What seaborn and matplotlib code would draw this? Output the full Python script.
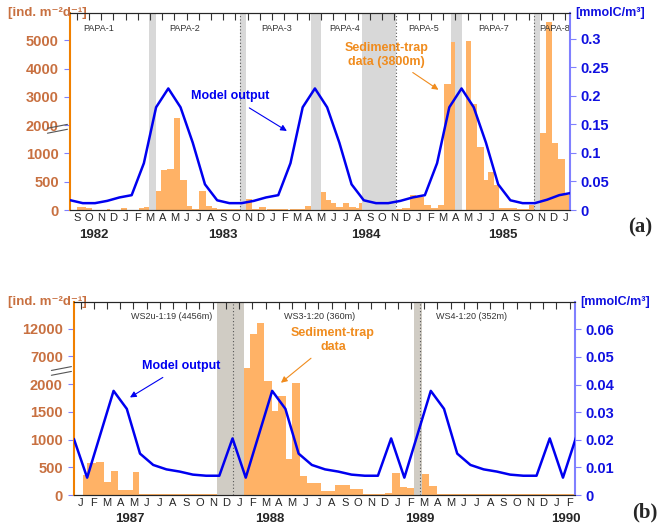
import numpy as np
import pandas as pd
import seaborn as sns
import matplotlib.pyplot as plt
from matplotlib.transforms import blended_transform_factory

sns.set_style("white")
plt.rcParams["font.family"] = ["Liberation Sans", "DejaVu Sans"]

ORANGE_BAR = "#FFB266"
ORANGE_TXT = "#C87040"
ORANGE_ANN = "#F08C1E"
BLUE = "#0000F0"
BLUE_AX = "#8080FF"

# ---------------- panel (a): month index 0 = Sep 1982 ----------------
a_months = ["S", "O", "N", "D", "J", "F", "M", "A", "M", "J", "J", "A"]
a_month_labels = (a_months * 4)[:41]
a_years = ["1982", "1983", "1984", "1985"]
a_year_pos = [1.4, 12.0, 23.7, 34.9]

a_model_x = [i - 0.5 for i in range(42)]
a_model = [0.017, 0.012, 0.012, 0.016, 0.022, 0.026, 0.082, 0.18, 0.213, 0.18, 0.118, 0.045,
           0.017, 0.012, 0.012, 0.016, 0.022, 0.026, 0.082, 0.18, 0.213, 0.18, 0.118, 0.045,
           0.017, 0.012, 0.012, 0.016, 0.022, 0.026, 0.082, 0.18, 0.213, 0.18, 0.118, 0.045,
           0.017, 0.012, 0.012, 0.018, 0.026, 0.030]

a_bar_start = [0.05, 0.77, 2.47, 3.62, 5.07, 5.48, 6.49, 6.9, 7.4, 7.95, 8.49, 8.99, 9.45, 10.0,
               10.55, 11.1, 11.5, 12.33, 13.84, 14.38, 14.93, 15.6, 17.5, 18.36, 18.7, 20.0,
               20.4, 20.82, 21.23, 21.78, 22.32, 22.9, 23.1, 26.17, 26.6, 27.3, 27.8, 28.4,
               29.0, 29.6, 30.1, 30.6, 31.9, 32.3, 32.8, 33.3, 33.7, 34.2, 34.6, 35.5, 36.07,
               37.05, 37.96, 38.38, 38.87, 39.4, 39.95]
a_bar_end = [0.77, 1.23, 2.74, 4.11, 5.48, 5.95, 6.9, 7.4, 7.95, 8.49, 8.99, 9.45, 10.0, 10.55,
             11.1, 11.5, 12.33, 13.37, 14.38, 14.93, 15.48, 17.3, 18.36, 18.7, 19.2, 20.4,
             20.82, 21.23, 21.78, 22.32, 22.9, 23.1, 23.35, 26.6, 27.3, 27.8, 28.4, 29.0,
             29.6, 30.1, 30.6, 31.0, 32.3, 32.8, 33.3, 33.7, 34.2, 34.6, 35.5, 36.07, 37.05,
             37.4, 38.38, 38.87, 39.4, 39.95, 40.57]
a_bar_val = [60, 30, 10, 40, 40, 50, 340, 715, 725, 2250, 535, 70, 20, 340, 70, 30, 20, 10,
             200, 20, 50, 10, 10, 20, 70, 310, 180, 130, 50, 120, 60, 40, 120, 10, 40, 260,
             235, 90, 30, 90, 3460, 4940, 4960, 2750, 1240, 523, 670, 450, 40, 30, 10, 80,
             1730, 5650, 1380, 910, 260]

a_grey = [(5.95, 6.49), (13.37, 13.84), (19.18, 20.0), (23.35, 26.17), (30.6, 31.5), (37.4, 37.96)]
a_dotted = [13.37, 26.17, 37.4]
a_cruise = ["PAPA-1", "PAPA-2", "PAPA-3", "PAPA-4", "PAPA-5", "PAPA-7", "PAPA-8"]
a_cruise_pos = [1.8, 8.8, 16.4, 21.9, 28.4, 34.1, 39.1]
a_left_ticks = [0, 500, 1000, 2000, 3000, 4000, 5000]
a_right_ticks = [0, 0.05, 0.1, 0.15, 0.2, 0.25, 0.3]

# ---------------- panel (b): month index 0 = Jan 1987 ----------------
b_months = ["J", "F", "M", "A", "M", "J", "J", "A", "S", "O", "N", "D"]
b_month_labels = (b_months * 4)[:38]
b_years = ["1987", "1988", "1989", "1990"]
b_year_pos = [3.7, 14.3, 25.7, 36.7]

b_model_x = [i - 0.5 for i in range(39)]
b_model = [0.0203, 0.0063, 0.022, 0.0377, 0.0312, 0.015, 0.0109, 0.0093, 0.0085, 0.0074, 0.007, 0.007,
           0.0205, 0.0063, 0.022, 0.0377, 0.0312, 0.015, 0.0109, 0.0093, 0.0085, 0.0074, 0.007, 0.007,
           0.0205, 0.0063, 0.022, 0.0377, 0.0312, 0.015, 0.0109, 0.0093, 0.0085, 0.0074, 0.007, 0.007,
           0.0205, 0.0063, 0.021]

b_bar_start = [0.15, 0.5, 1.2, 1.77, 2.27, 2.85, 3.48, 3.94, 4.44, 12.37, 12.83, 13.38, 13.89,
               14.47, 14.97, 15.53, 16.03, 16.6, 17.1, 18.2, 18.9, 19.27, 20.4, 21.4, 23.06,
               23.56, 24.2, 24.7, 25.8, 26.4, 27.0]
b_bar_end = [0.5, 1.2, 1.77, 2.27, 2.85, 3.48, 3.94, 4.44, 10.35, 12.83, 13.38, 13.89, 14.47,
             14.97, 15.53, 16.03, 16.6, 17.1, 18.2, 18.9, 19.27, 20.4, 21.4, 23.06, 23.56,
             24.2, 24.7, 25.2, 26.4, 27.0, 37.4]
b_bar_val = [360, 570, 600, 240, 430, 90, 90, 410, 20, 5000, 11100, 13000, 2500, 1520, 1780,
             645, 2200, 345, 210, 70, 70, 180, 110, 15, 40, 390, 140, 130, 380, 160, 15]

b_grey = [(10.35, 12.37), (25.2, 25.8)]
b_dotted = [11.57, 25.65]
b_cruise = ["WS2u-1:19 (4456m)", "WS3-1:20 (360m)", "WS4-1:20 (352m)"]
b_cruise_pos = [6.9, 18.1, 29.6]
b_left_ticks = [0, 500, 1000, 1500, 2000, 7000, 12000]
b_right_ticks = [0, 0.01, 0.02, 0.03, 0.04, 0.05, 0.06]


def make_scale(split, k):
    # piecewise linear "broken" axis: linear below split, compressed by k above
    def fwd(v):
        v = np.asarray(v, dtype=float)
        return np.where(v <= split, v, split + (v - split) / k)

    def inv(u):
        u = np.asarray(u, dtype=float)
        return np.where(u <= split, u, split + (u - split) * k)
    return fwd, inv


def draw_panel(rect, months, years, year_pos, mx, model, bs, be, bv, grey, dotted,
               cruise, cruise_pos, lticks, rticks, xlim, lylim, rylim, scale, grey_col,
               break_y, tag):
    ax = fig.add_axes(rect)
    ax.set_yscale("function", functions=make_scale(*scale))
    for g0, g1 in grey:
        ax.axvspan(g0, g1, color=grey_col, lw=0, zorder=0)
    for d in dotted:
        ax.axvline(d, color="#555555", ls=(0, (1, 2)), lw=0.8, zorder=1)
    bs = np.array(bs)
    be = np.array(be)
    ax.bar(bs, bv, width=be - bs, align="edge", color=ORANGE_BAR, lw=0, zorder=2)
    ax.set_xlim(*xlim)
    ax.set_ylim(*lylim)
    ax.set_yticks(lticks)
    ax.set_yticklabels([str(t) for t in lticks], color=ORANGE_TXT, fontweight="bold", fontsize=10.5)
    ax.yaxis.set_minor_locator(plt.NullLocator())
    ax.tick_params(axis="y", length=4, color=BLUE_AX, direction="out", pad=4)
    ax.set_xticks(range(len(months)))
    ax.set_xticklabels(months, fontsize=8)
    ax.tick_params(axis="x", top=True, bottom=False, direction="in", length=5, color="#333333",
                   labeltop=False, pad=2)
    for x, lab in zip(cruise_pos, cruise):
        ax.text(x, 0.91, lab, transform=ax.get_xaxis_transform(), fontsize=6.5,
                ha="center", color="#333333")
    for x, lab in zip(year_pos, years):
        ax.text(x, -0.125, lab, transform=ax.get_xaxis_transform(), fontsize=9.5,
                fontweight="bold", ha="center", va="center")
    for s in ["top", "bottom"]:
        ax.spines[s].set_color("#333333")
    ax.spines["left"].set_color("#F08000")
    ax.spines["left"].set_linewidth(1.5)
    ax.spines["right"].set_visible(False)
    ax.text(0.012, 1.0, "[ind. m⁻²d⁻¹]",
            transform=blended_transform_factory(fig.transFigure, ax.transAxes), ha="left",
            va="center", color=ORANGE_TXT, fontweight="bold", fontsize=9.5)
    for dy in (0, 0.025):
        ax.plot([-0.045, -0.005], [break_y + dy - 0.01, break_y + dy + 0.01],
                transform=ax.transAxes, color="#555555", lw=0.8, clip_on=False)

    ax2 = ax.twinx()
    df = pd.DataFrame({"x": mx, "y": model})
    sns.lineplot(data=df, x="x", y="y", ax=ax2, color=BLUE, lw=1.8, zorder=5)
    ax2.set_xlim(*xlim)
    ax2.set_ylim(*rylim)
    ax2.set_yticks(rticks)
    ax2.set_yticklabels([f"{t:g}" for t in rticks], color="#1010E0", fontweight="bold", fontsize=10.5)
    ax2.set_xlabel("")
    ax2.set_ylabel("")
    ax2.tick_params(axis="y", length=4, color=BLUE_AX, direction="out")
    ax2.spines["right"].set_color(BLUE_AX)
    ax2.spines["right"].set_linewidth(1.5)
    ax2.spines["left"].set_visible(False)
    ax2.text(1.01, 1.0, "[mmolC/m³]", transform=ax2.transAxes, ha="left", va="center",
             color="#1010E0", fontweight="bold", fontsize=9)
    ax2.text(1.14, -0.09, tag, transform=ax2.transAxes, ha="center", va="center",
             fontsize=15, fontweight="bold", family="Liberation Serif")
    return ax, ax2


fig = plt.figure(figsize=(6.6, 5.25), dpi=100)

ax_a, ax_a2 = draw_panel([0.106, 0.6, 0.758, 0.375], a_month_labels, a_years, a_year_pos,
                         a_model_x, a_model, a_bar_start, a_bar_end, a_bar_val, a_grey, a_dotted,
                         a_cruise, a_cruise_pos, a_left_ticks, a_right_ticks, (-0.55, 40.4),
                         (0, 5960), (0, 0.345), (1000, 2), "#D8D8D8", 0.4, "(a)")
ax_a2.annotate("Model output", xy=(17.4, 0.136), xytext=(12.6, 0.199), color=BLUE,
               fontweight="bold", fontsize=9, ha="center", va="center",
               arrowprops=dict(arrowstyle="-|>", color=BLUE, lw=0.8, shrinkA=3))
ax_a2.annotate("Sediment-trap\ndata (3800m)", xy=(29.8, 0.208), xytext=(25.35, 0.272),
               color=ORANGE_ANN, fontweight="bold", fontsize=9, ha="center", va="center",
               arrowprops=dict(arrowstyle="-|>", color=ORANGE_ANN, lw=0.8, shrinkA=2))

ax_b, ax_b2 = draw_panel([0.112, 0.057, 0.759, 0.368], b_month_labels, b_years, b_year_pos,
                         b_model_x, b_model, b_bar_start, b_bar_end, b_bar_val, b_grey, b_dotted,
                         b_cruise, b_cruise_pos, b_left_ticks, b_right_ticks, (-0.5, 37.4),
                         (0, 16850), (0, 0.0699), (2000, 10), "#D0CCC4", 0.63, "(b)")
ax_b2.annotate("Model output", xy=(3.56, 0.0348), xytext=(7.65, 0.0467), color=BLUE,
               fontweight="bold", fontsize=9, ha="center", va="center",
               arrowprops=dict(arrowstyle="-|>", color=BLUE, lw=0.8, shrinkA=3))
ax_b2.annotate("Sediment-trap\ndata", xy=(15.0, 0.040), xytext=(19.1, 0.056),
               color=ORANGE_ANN, fontweight="bold", fontsize=9, ha="center", va="center",
               arrowprops=dict(arrowstyle="-|>", color=ORANGE_ANN, lw=0.8, shrinkA=2))

fig.savefig("out.png", dpi=100)
